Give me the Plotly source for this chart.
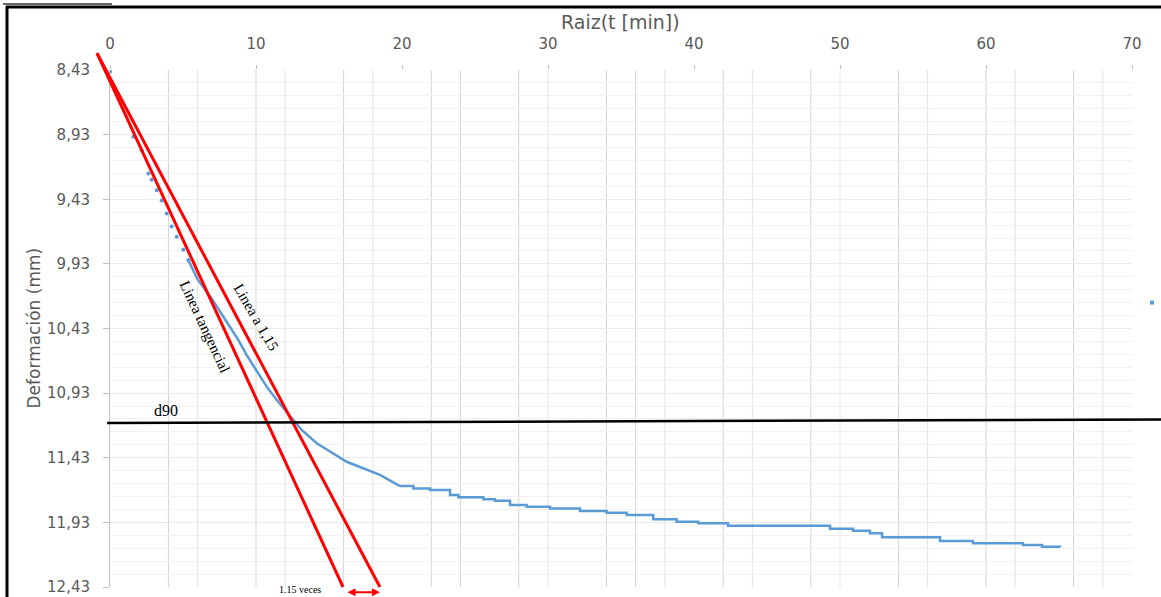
import plotly.graph_objects as go

# ---------------------------------------------------------------- data
# settlement curve, sparse early readings (markers)
early_x = [0.0, 1.6, 2.17, 2.63, 2.85, 3.2, 3.54, 3.88, 4.22, 4.57, 5.02, 5.36]
early_y = [8.443, 8.946, 9.05, 9.23, 9.28, 9.36, 9.44, 9.54, 9.64, 9.72, 9.82, 9.9]

# continuous part of the curve
mid_x = [5.36, 6.0, 6.96, 7.53, 8.22, 8.79, 9.36, 10.05, 10.73, 11.42, 12.55,
         13.13, 14.16, 16.21, 18.49, 19.86]
mid_y = [9.9, 10.05, 10.197, 10.30, 10.416, 10.519, 10.635, 10.764, 10.88, 10.983,
         11.138, 11.215, 11.318, 11.461, 11.563, 11.649]

# stepped tail (dial resolution)
tail_x = [19.86, 20.78, 21.92, 23.29, 23.86, 25.57, 26.37, 27.40, 28.54, 30.14,
          32.19, 34.02, 35.39, 37.21, 38.81, 40.29, 42.33, 49.32, 50.89, 52.05,
          52.88, 56.85, 59.11, 62.53, 63.84, 65.07]
tail_y = [11.649, 11.667, 11.68, 11.718, 11.736, 11.752, 11.762, 11.796, 11.809,
          11.822, 11.842, 11.855, 11.873, 11.906, 11.925, 11.937, 11.956, 11.98,
          11.994, 12.015, 12.045, 12.074, 12.092, 12.105, 12.118, 12.123]

# isolated reading beyond the axis
stray_x = [71.37]
stray_y = [10.23]

# Casagrande / Taylor construction
origin = (-0.89, 8.30)          # common origin of both lines
tangent_end = (15.96, 12.43)    # tangent line end
FACTOR = 1.15                   # abscissas multiplied by 1.15
d90_x = [-0.2, 72.0]
d90_y = [11.161, 11.134]

x_ticks = [0, 10, 20, 30, 40, 50, 60, 70]
y_ticks = [8.43, 8.93, 9.43, 9.93, 10.43, 10.93, 11.43, 11.93, 12.43]
y_ticktext = ["8,43", "8,93", "9,43", "9,93", "10,43", "10,93", "11,43", "11,93", "12,43"]

grid_dark = [4, 10, 16, 22, 24, 28, 34, 36, 42, 48, 54, 60, 66]
grid_light = [6, 12, 18, 30, 38, 44, 50, 56, 62, 68]

# ---------------------------------------------------------------- layout geometry
W, H = 1161, 597
L, R, T, B = 110, 1132, 70, 587          # plot area in px
X0, X1 = 0, 70
Y0, Y1 = 8.43, 12.43

kx = (X1 - X0) / (R - L)
ky = (Y1 - Y0) / (B - T)
x2_range = [X0 - L * kx, X1 + (W - R) * kx]
y2_range = [Y1 + (H - B) * ky, Y0 - T * ky]

ext_end_x = origin[0] + FACTOR * (tangent_end[0] - origin[0])

BLUE = "#5b9bd5"
RED = "#ff0000"
TICK_FONT = dict(family="DejaVu Sans", size=15, color="#595959")
SERIF = "Liberation Serif"

fig = go.Figure()

fig.add_trace(go.Scatter(x=early_x, y=early_y, mode="markers",
                         marker=dict(color=BLUE, size=4), showlegend=False))
fig.add_trace(go.Scatter(x=mid_x, y=mid_y, mode="lines",
                         line=dict(color=BLUE, width=2.5), showlegend=False))
fig.add_trace(go.Scatter(x=tail_x, y=tail_y, mode="lines",
                         line=dict(color=BLUE, width=2.5, shape="hv"), showlegend=False))

# construction lines on a full-page overlay with the same scale
fig.add_trace(go.Scatter(x=stray_x, y=stray_y, mode="markers", xaxis="x2", yaxis="y2",
                         marker=dict(color=BLUE, size=4, symbol="square"), showlegend=False))
fig.add_trace(go.Scatter(x=[origin[0], tangent_end[0]], y=[origin[1], tangent_end[1]],
                         mode="lines", xaxis="x2", yaxis="y2",
                         line=dict(color=RED, width=3), showlegend=False))
fig.add_trace(go.Scatter(x=[origin[0], ext_end_x], y=[origin[1], tangent_end[1]],
                         mode="lines", xaxis="x2", yaxis="y2",
                         line=dict(color=RED, width=3), showlegend=False))
fig.add_trace(go.Scatter(x=d90_x, y=d90_y, mode="lines", xaxis="x2", yaxis="y2",
                         line=dict(color="black", width=2.5), showlegend=False))

shapes = []
for gx in grid_dark:
    shapes.append(dict(type="line", xref="x", yref="y", x0=gx, x1=gx, y0=Y0, y1=Y1,
                       line=dict(color="#d3d3d3", width=1), layer="below"))
for gx in grid_light:
    shapes.append(dict(type="line", xref="x", yref="y", x0=gx, x1=gx, y0=Y0, y1=Y1,
                       line=dict(color="#e3e3e3", width=1), layer="below"))
# page frame
shapes.append(dict(type="line", xref="paper", yref="paper", x0=6 / W, x1=1,
                   y0=1 - 7 / H, y1=1 - 7 / H, line=dict(color="black", width=3)))
shapes.append(dict(type="line", xref="paper", yref="paper", x0=7 / W, x1=7 / W,
                   y0=0, y1=1 - 6 / H, line=dict(color="black", width=3)))
shapes.append(dict(type="line", xref="paper", yref="paper", x0=3 / W, x1=112 / W,
                   y0=1 - 4 / H, y1=1 - 4 / H, line=dict(color="#333333", width=1.5)))

annotations = [
    dict(text="Raiz(t [min])", xref="paper", yref="paper", x=(L + R) / 2 / W, y=1 - 22 / H,
         xanchor="center", yanchor="middle", showarrow=False,
         font=dict(family="DejaVu Sans", size=19, color="#595959")),
    dict(text="Deformación (mm)", xref="paper", yref="paper", x=33 / W, y=1 - (T + B) / 2 / H,
         xanchor="center", yanchor="middle", textangle=-90, showarrow=False,
         font=dict(family="DejaVu Sans", size=17, color="#595959")),
    dict(text="Linea tangencial", xref="x2", yref="y2", x=6.51, y=10.418, textangle=65,
         showarrow=False, font=dict(family=SERIF, size=15, color="black")),
    dict(text="Linea a 1,15", xref="x2", yref="y2", x=10.0, y=10.341, textangle=60,
         showarrow=False, font=dict(family=SERIF, size=15, color="black")),
    dict(text="d90", xref="x2", yref="y2", x=3.84, y=11.068,
         showarrow=False, font=dict(family=SERIF, size=16, color="black")),
    dict(text=f"{FACTOR:.2f} veces", xref="x2", yref="y2", x=13.0, y=12.447,
         showarrow=False, font=dict(family=SERIF, size=10, color="black")),
    dict(text="", xref="x2", yref="y2", axref="x2", ayref="y2",
         x=ext_end_x, y=12.47, ax=tangent_end[0], ay=12.47,
         showarrow=True, arrowside="end+start", arrowhead=2, startarrowhead=2,
         arrowsize=0.8, startarrowsize=0.8, arrowwidth=2, arrowcolor=RED,
         standoff=0, startstandoff=3),
]

fig.update_layout(
    width=W, height=H,
    margin=dict(l=0, r=0, t=0, b=0, autoexpand=False),
    paper_bgcolor="white", plot_bgcolor="rgba(0,0,0,0)",
    separators=",.",
    showlegend=False,
    xaxis=dict(domain=[L / W, R / W], range=[X0, X1], side="top", automargin=False,
               tickmode="array", tickvals=x_ticks, ticks="outside", ticklen=4,
               tickcolor="#bfbfbf", showgrid=False, zeroline=False, showline=False,
               tickfont=TICK_FONT, ticklabelstandoff=10),
    yaxis=dict(domain=[1 - B / H, 1 - T / H], range=[Y1, Y0], automargin=False,
               tickmode="array", tickvals=y_ticks, ticktext=y_ticktext,
               ticks="outside", ticklen=6, tickcolor="#bfbfbf",
               showline=True, linecolor="#bfbfbf", linewidth=1,
               showgrid=True, gridcolor="#ebebeb", zeroline=False,
               minor=dict(dtick=0.1, tick0=Y0, showgrid=True, gridcolor="#f1f1f1", ticks=""),
               tickfont=TICK_FONT, ticklabelstandoff=10),
    xaxis2=dict(domain=[0, 1], range=x2_range, anchor="y2", visible=False,
                fixedrange=True, automargin=False),
    yaxis2=dict(domain=[0, 1], range=y2_range, anchor="x2", visible=False,
                fixedrange=True, automargin=False),
    shapes=shapes,
    annotations=annotations,
)

fig.write_html("out.html", config={"displayModeBar": False})
